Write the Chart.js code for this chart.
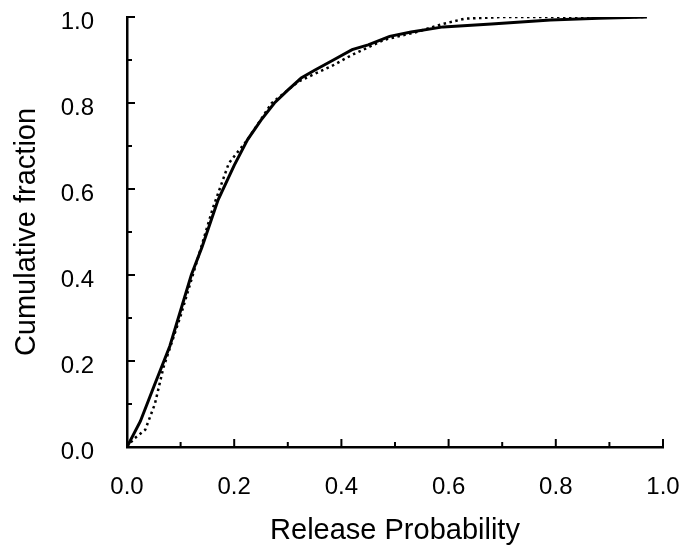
<!DOCTYPE html>
<html>
<head>
<meta charset="utf-8">
<script src="https://cdn.jsdelivr.net/npm/chart.js@4/dist/chart.umd.min.js"></script>
<style>
  html, body { margin: 0; padding: 0; background: #fff; }
  #wrap { width: 694px; height: 545px; }
</style>
</head>
<body>
<div id="wrap"><canvas id="cdf"></canvas></div>
<script>
// solid curve
var solidX = [0, 0.025, 0.05, 0.08, 0.12, 0.14, 0.17, 0.2, 0.225, 0.25, 0.275, 0.3, 0.325, 0.35, 0.385, 0.42, 0.45, 0.49, 0.53, 0.59, 0.68, 0.79, 0.88, 0.97];
var solidY = [0, 0.06, 0.14, 0.235, 0.40, 0.465, 0.575, 0.655, 0.715, 0.76, 0.80, 0.83, 0.858, 0.876, 0.90, 0.924, 0.935, 0.955, 0.965, 0.977, 0.984, 0.993, 0.997, 1.0];
// dotted curve
var dotX = [0, 0.012, 0.034, 0.052, 0.068, 0.1, 0.13, 0.16, 0.19, 0.225, 0.27, 0.32, 0.385, 0.42, 0.48, 0.54, 0.59, 0.63, 0.7, 0.85, 0.97];
var dotY = [0, 0.018, 0.04, 0.10, 0.185, 0.305, 0.43, 0.555, 0.66, 0.715, 0.80, 0.85, 0.888, 0.912, 0.947, 0.965, 0.984, 0.996, 1.0, 1.0, 1.0];
var tickVals = [0, 0.1, 0.2, 0.3, 0.4, 0.5, 0.6, 0.7, 0.8, 0.9, 1.0];

function pts(xs, ys) {
    return xs.map(function (x, i) { return {x: x, y: ys[i]}; });
}

// tick marks drawn on the inside of the axes
var innerTicks = {
    id: 'innerTicks',
    afterDraw: function (chart) {
        var ctx = chart.ctx, xs = chart.scales.x, ys = chart.scales.y;
        var area = chart.chartArea;
        ctx.save();
        ctx.strokeStyle = '#000';
        ctx.lineWidth = 2;
        tickVals.forEach(function (v, i) {
            var len = (i % 2 === 0) ? 8 : 5;
            var px = xs.getPixelForValue(v);
            ctx.beginPath();
            ctx.moveTo(px, area.bottom);
            ctx.lineTo(px, area.bottom - len);
            ctx.stroke();
            var py = ys.getPixelForValue(v);
            ctx.beginPath();
            ctx.moveTo(area.left, py);
            ctx.lineTo(area.left + len, py);
            ctx.stroke();
        });
        ctx.restore();
    }
};

// keep the plot box fixed, ignore label overflow padding
function noPad(s) {
    s.paddingTop = 0; s.paddingBottom = 0; s.paddingLeft = 0; s.paddingRight = 0;
}

var tickFont = {family: "'Liberation Sans', Arial, sans-serif", size: 24};
var titleFont = {family: "'Liberation Sans', Arial, sans-serif", size: 29, lineHeight: 1};

new Chart(document.getElementById('cdf').getContext('2d'), {
    type: 'line',
    data: {
        datasets: [
            {
                label: 'solid',
                data: pts(solidX, solidY),
                borderColor: '#000',
                borderWidth: 3,
                pointRadius: 0,
                tension: 0,
                fill: false
            },
            {
                label: 'dotted',
                data: pts(dotX, dotY),
                borderColor: '#000',
                borderWidth: 2.5,
                borderDash: [2.5, 3.5],
                pointRadius: 0,
                tension: 0,
                fill: false
            }
        ]
    },
    options: {
        responsive: true,
        maintainAspectRatio: false,
        animation: false,
        layout: {padding: {top: 17, right: 31, left: 0, bottom: 0}},
        plugins: {legend: {display: false}, tooltip: {enabled: false}},
        scales: {
            x: {
                type: 'linear',
                min: 0, max: 1,
                grid: {display: false, drawTicks: false},
                border: {display: true, color: '#000', width: 2.5},
                ticks: {
                    stepSize: 0.2, padding: 26, color: '#000', font: tickFont, maxRotation: 0,
                    callback: function (v) { return v.toFixed(1); }
                },
                title: {display: true, text: 'Release Probability', color: '#000', font: titleFont, padding: {top: 0, bottom: 0}},
                afterFit: function (s) { s.height = 98; noPad(s); }
            },
            y: {
                type: 'linear',
                min: 0, max: 1,
                grid: {display: false, drawTicks: false},
                border: {display: true, color: '#000', width: 2.5},
                ticks: {
                    stepSize: 0.2, padding: 33, labelOffset: 5, color: '#000', font: tickFont,
                    callback: function (v) { return v.toFixed(1); }
                },
                title: {display: true, text: 'Cumulative fraction', color: '#000', font: titleFont, padding: {top: 12, bottom: 0}},
                afterFit: function (s) { s.width = 127; noPad(s); }
            }
        }
    },
    plugins: [innerTicks]
});
</script>
</body>
</html>
